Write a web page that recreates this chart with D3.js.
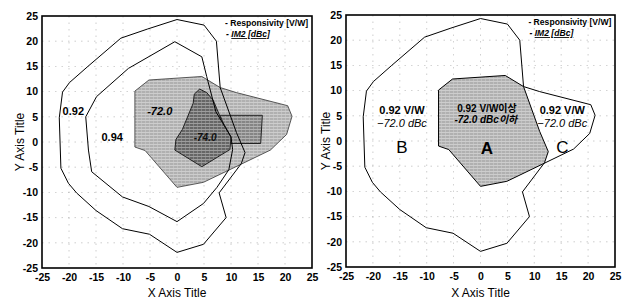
<!DOCTYPE html>
<html>
<head>
<meta charset="utf-8">
<script src="https://cdn.jsdelivr.net/npm/d3@7"></script>
<style>
  body { margin: 0; background: #fff; }
  svg { display: block; font-family: "Liberation Sans", Arial, sans-serif; }
</style>
</head>
<body>
<div id="chart"></div>
<script>
const W = 628, H = 300;

// ticks
const xTicks = [-25, -20, -15, -10, -5, 0, 5, 10, 15, 20, 25];
const yTicks = [-25, -20, -15, -10, -5, 0, 5, 10, 15, 20, 25];
const gridVals = [-20, -15, -10, -5, 0, 5, 10, 15, 20];

// responsivity 0.92 V/W contour
const contour092 = [[0,24.3],[5,23.2],[7.3,20],[8,10.8],[11,1.9],[12.6,-2.1],[11.9,-4.3],[7.8,-10.1],[9.1,-15],
  [4.9,-20.3],[0,-21.9],[-5.1,-18.3],[-10.1,-17.2],[-15,-13.6],[-18.6,-10.1],[-20.1,-8.2],[-21.5,-5.2],
  [-21.8,4.8],[-21.2,9.9],[-19.9,11.8],[-16.5,15],[-10.4,20.6],[-5.5,22.4]];
// responsivity 0.94 V/W contour
const contour094 = [[-0.4,19.9],[4.6,16.9],[5.5,13],[7.2,6],[10,1],[10.3,-1.5],[9.6,-5.5],[7.4,-9],[4.9,-12.2],
  [0,-15.8],[-5.2,-12.8],[-10.1,-10.9],[-15.8,-5.9],[-16.4,-1.6],[-16.9,5],[-14.9,9],[-9,14.6]];
// IM2 -72.0 dBc region
const region72 = [[-7.8,10.1],[-5.2,12.3],[4.6,13],[8,10.8],[11,9.8],[20.5,7.2],[21.3,5.1],[20.3,1.5],
  [17.3,-1.6],[11.5,-4.6],[4.9,-8],[0,-9],[-5.9,-1.7],[-7.8,-1]];
// IM2 -74.0 dBc regions
const region74a = [[8,5.3],[15.8,5.3],[15.5,-0.3],[9.8,-0.3]];
const region74b = [[4.2,10.5],[5.5,9.8],[6.7,8.3],[8.2,4.5],[10,1],[9.8,-1.5],[4.6,-4.9],[-0.4,-1.6],
  [-0.2,0.5],[1,2.5],[3,7.7],[3.2,9.5]];

const legendItems = ["Responsivity [V/W]", "IM2 [dBc]"];

const svg = d3.select("#chart").append("svg").attr("width", W).attr("height", H);
const defs = svg.append("defs");

function makePattern(id, base) {
  const p = defs.append("pattern").attr("id", id).attr("patternUnits", "userSpaceOnUse")
    .attr("width", 4).attr("height", 3);
  p.append("rect").attr("width", 4).attr("height", 3).attr("fill", base);
  p.append("rect").attr("y", 0).attr("width", 4).attr("height", 0.8).attr("fill", "#fff").attr("opacity", 0.45);
  p.append("rect").attr("x", 1).attr("y", 1.6).attr("width", 1).attr("height", 0.8).attr("fill", "#fff").attr("opacity", 0.5);
}
makePattern("shadeLight", "#b0b0b0");
makePattern("shadeMid", "#858585");
makePattern("shadeDark", "#666");

const line = (x, y) => d3.line().x(d => x(d[0])).y(d => y(d[1])).curve(d3.curveLinearClosed);

function panel(g, x, y, titleX) {
  const [x0, x1] = x.range();
  const [y0, y1] = y.range();

  // grid
  g.append("g").selectAll("line").data(gridVals).enter().append("line")
    .attr("x1", x0).attr("x2", x1).attr("y1", d => y(d)).attr("y2", d => y(d))
    .attr("stroke", "#888").attr("stroke-width", 0.8).attr("stroke-dasharray", "1.5,5").attr("opacity", 0.5);
  g.append("g").selectAll("line").data(gridVals).enter().append("line")
    .attr("y1", y1).attr("y2", y0).attr("x1", d => x(d)).attr("x2", d => x(d))
    .attr("stroke", "#888").attr("stroke-width", 0.8).attr("stroke-dasharray", "1.5,5").attr("opacity", 0.5);

  // axes
  const xAxis = d3.axisBottom(x).tickValues(xTicks).tickSize(0).tickPadding(6).tickFormat(d => String(d));
  const yAxis = d3.axisLeft(y).tickValues(yTicks).tickSize(0).tickPadding(4).tickFormat(d => String(d));
  const gx = g.append("g").attr("transform", `translate(0,${y0})`).call(xAxis);
  const gy = g.append("g").attr("transform", `translate(${x0},0)`).call(yAxis);
  [gx, gy].forEach(a => {
    a.select(".domain").remove();
    a.selectAll("text").attr("font-family", "'Liberation Sans Narrow', 'Liberation Sans', Arial")
      .attr("font-weight", "bold").attr("font-size", 10.5).attr("fill", "#000");
  });

  g.append("text").attr("x", (x0 + x1) / 2).attr("y", 297)
    .attr("text-anchor", "middle").attr("font-size", 12).text("X Axis Title");
  g.append("text").attr("transform", `translate(${titleX},${(y0 + y1) / 2}) rotate(-90)`)
    .attr("text-anchor", "middle").attr("font-size", 12).text("Y Axis Title");
}

function frame(g, x, y) {
  const [x0, x1] = x.range();
  const [y0, y1] = y.range();
  g.append("rect").attr("x", x0).attr("y", y1).attr("width", x1 - x0).attr("height", y0 - y1)
    .attr("fill", "none").attr("stroke", "#000").attr("stroke-width", 1.6);
}

function legend(g, x, y) {
  const lx = x(8.9), ly = y(23);
  const t = g.append("g").attr("font-size", 8.6).attr("font-weight", "bold");
  t.append("text").attr("x", lx).attr("y", ly).text("- " + legendItems[0]);
  const t2 = t.append("text").attr("x", lx + 1).attr("y", ly + 11).attr("font-style", "italic");
  t2.append("tspan").text("- ");
  t2.append("tspan").attr("text-decoration", "underline").text(legendItems[1]);
}

// ---------- left panel ----------
const xL = d3.scaleLinear().domain([-25, 25]).range([42, 312]);
const yL = d3.scaleLinear().domain([-25, 25]).range([268, 16]);
const gL = svg.append("g");
panel(gL, xL, yL, 24);
const lineL = line(xL, yL);

gL.append("path").attr("d", lineL(region72)).attr("fill", "url(#shadeLight)")
  .attr("stroke", "#333").attr("stroke-width", 0.8);
gL.append("path").attr("d", lineL(region74a)).attr("fill", "url(#shadeMid)")
  .attr("stroke", "#222").attr("stroke-width", 1);
gL.append("path").attr("d", lineL(region74b)).attr("fill", "url(#shadeDark)")
  .attr("stroke", "#222").attr("stroke-width", 1);
gL.append("path").attr("d", lineL(contour092)).attr("fill", "none").attr("stroke", "#000").attr("stroke-width", 1);
gL.append("path").attr("d", lineL(contour094)).attr("fill", "none").attr("stroke", "#000").attr("stroke-width", 1);

gL.append("text").attr("x", xL(-19.2)).attr("y", yL(5.3)).attr("text-anchor", "middle")
  .attr("font-size", 11).attr("font-weight", "bold").text("0.92");
gL.append("text").attr("x", xL(-12)).attr("y", yL(0.2)).attr("text-anchor", "middle")
  .attr("font-size", 11).attr("font-weight", "bold").text("0.94");
gL.append("text").attr("x", xL(-3.2)).attr("y", yL(5.3)).attr("text-anchor", "middle")
  .attr("font-size", 11).attr("font-weight", "bold").attr("font-style", "italic").text("-72.0");
gL.append("text").attr("x", xL(5.2)).attr("y", yL(0.2)).attr("text-anchor", "middle")
  .attr("font-size", 10).attr("font-weight", "bold").attr("font-style", "italic").attr("fill", "#111").text("-74.0");
legend(gL, xL, yL);
frame(gL, xL, yL);

// ---------- right panel ----------
const xR = d3.scaleLinear().domain([-25, 25]).range([346, 615]);
const yR = d3.scaleLinear().domain([-25, 25]).range([267, 15]);
const gR = svg.append("g");
panel(gR, xR, yR, 330);
const lineR = line(xR, yR);

defs.append("clipPath").attr("id", "clip092").append("path").attr("d", lineR(contour092));
gR.append("path").attr("d", lineR(region72)).attr("fill", "url(#shadeLight)")
  .attr("clip-path", "url(#clip092)");
gR.append("path").attr("d", lineR(region72)).attr("fill", "none").attr("stroke", "#000").attr("stroke-width", 1);
gR.append("path").attr("d", lineR(contour092)).attr("fill", "none").attr("stroke", "#000").attr("stroke-width", 1);

const labelsR = [
  { x: -14.6, y: 5.3, t: "0.92 V/W", w: "bold", s: "normal", f: 11 },
  { x: -14.6, y: 2.8, t: "\u221272.0 dBc", w: "normal", s: "italic", f: 11 },
  { x: -14.6, y: -2.3, t: "B", w: "normal", s: "normal", f: 17 },
  { x: 15.2, y: 5.3, t: "0.92 V/W", w: "bold", s: "normal", f: 11 },
  { x: 15.2, y: 2.8, t: "\u221272.0 dBc", w: "normal", s: "italic", f: 11 },
  { x: 15.2, y: -2.3, t: "C", w: "normal", s: "normal", f: 17 },
  { x: 1.2, y: 5.8, t: "0.92 V/W이상", w: "bold", s: "normal", f: 10 },
  { x: 1.0, y: 3.5, t: "-72.0 dBc이하", w: "bold", s: "italic", f: 10 },
  { x: 1.2, y: -2.6, t: "A", w: "bold", s: "normal", f: 17 }
];
gR.append("g").selectAll("text").data(labelsR).enter().append("text")
  .attr("x", d => xR(d.x)).attr("y", d => yR(d.y)).attr("text-anchor", "middle")
  .attr("font-size", d => d.f).attr("font-weight", d => d.w).attr("font-style", d => d.s)
  .attr("font-family", "'Liberation Sans', 'Noto Sans CJK KR', sans-serif")
  .text(d => d.t);
legend(gR, xR, yR);
frame(gR, xR, yR);
</script>
</body>
</html>
